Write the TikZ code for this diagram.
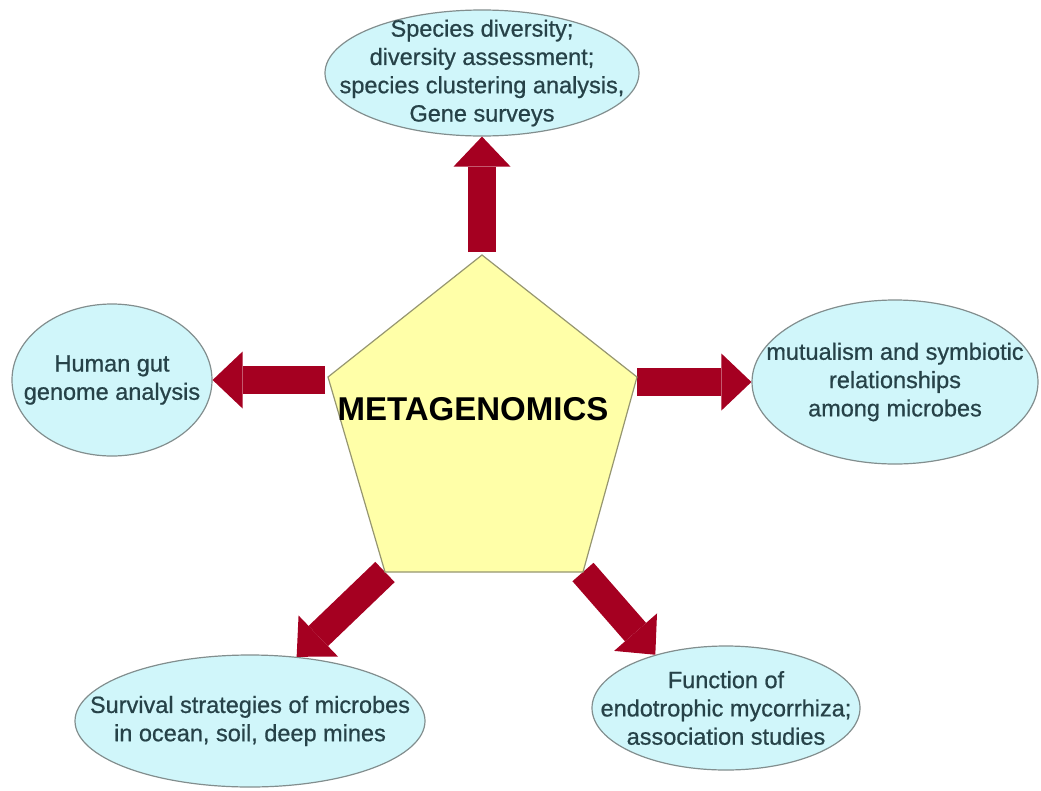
\documentclass[tikz,border=0pt]{standalone}
\usepackage{fontspec}
\setmainfont{Liberation Sans}
\newfontfamily\bubblefont[FakeBold=0.7]{Liberation Sans}
\usetikzlibrary{arrows.meta,shapes.geometric}
\definecolor{bubblefill}{RGB}{208,246,250}
\definecolor{bubbleedge}{RGB}{130,142,142}
\definecolor{pentfill}{RGB}{255,255,168}
\definecolor{pentedge}{RGB}{150,150,112}
\definecolor{arrowred}{RGB}{165,0,33}
\definecolor{labeltext}{RGB}{38,66,72}
\tikzset{
  bubble/.style={ellipse, draw=bubbleedge, fill=bubblefill, line width=1.2pt, inner sep=0pt},
  bubbletext/.style={align=center, text=labeltext, inner sep=0pt, font=\bubblefont\fontsize{23.5}{28.3}\selectfont},
  fatarrow/.style={color=arrowred, line width=28pt, -{Triangle[length=30pt,width=57pt,line width=0pt]}}
}
\begin{document}
\begin{tikzpicture}[x=1pt,y=-1pt]
		\useasboundingbox (0,0) rectangle (1041,790);
		\node[bubble, minimum width=314pt, minimum height=126pt] (species) at (482,73) {};
		\node[bubble, minimum width=200pt, minimum height=152pt] (gut) at (112,380) {};
		\node[bubble, minimum width=286pt, minimum height=164pt] (mutual) at (895,382) {};
		\node[bubble, minimum width=350pt, minimum height=132pt] (survival) at (250,721) {};
		\node[bubble, minimum width=268pt, minimum height=124pt] (mycor) at (726,708) {};
		\node[bubbletext] (speciestext) at (species) {Species diversity;\\diversity assessment;\\species clustering analysis,\\Gene surveys};
		\node[bubbletext] (guttext) at (gut) {Human gut\\genome analysis};
		\node[bubbletext] (mutualtext) at (mutual) {mutualism and symbiotic\\relationships\\among microbes};
		\node[bubbletext] (survivaltext) at (survival) {Survival strategies of microbes\\in ocean, soil, deep mines};
		\node[bubbletext] (mycortext) at (mycor) {Function of\\endotrophic mycorrhiza;\\association studies};
		\coordinate (ptop) at (482,255);
		\coordinate (pleft) at (328,377);
		\coordinate (pright) at (637,377);
		\coordinate (pbl) at (385,572);
		\coordinate (pbr) at (583,572);
		\draw[fatarrow, shorten <=3pt] (ptop) -- (species.south);
		\draw[fatarrow, shorten <=3pt] (pleft |- gut.east) -- (gut.east);
		\draw[fatarrow] (pright |- mutual.west) -- (mutual.west);
		\draw[fatarrow] (pbl) -- (survival.54);
		\draw[fatarrow] (pbr) -- (mycor.143);
		\draw[line width=1.2pt, draw=pentedge, fill=pentfill] (ptop) -- (pright) -- (pbr) -- (pbl) -- (pleft) -- cycle;
		\node[font=\fontsize{33}{40}\selectfont\bfseries] (meta) at (473,409) {METAGENOMICS};
\end{tikzpicture}
\end{document}
